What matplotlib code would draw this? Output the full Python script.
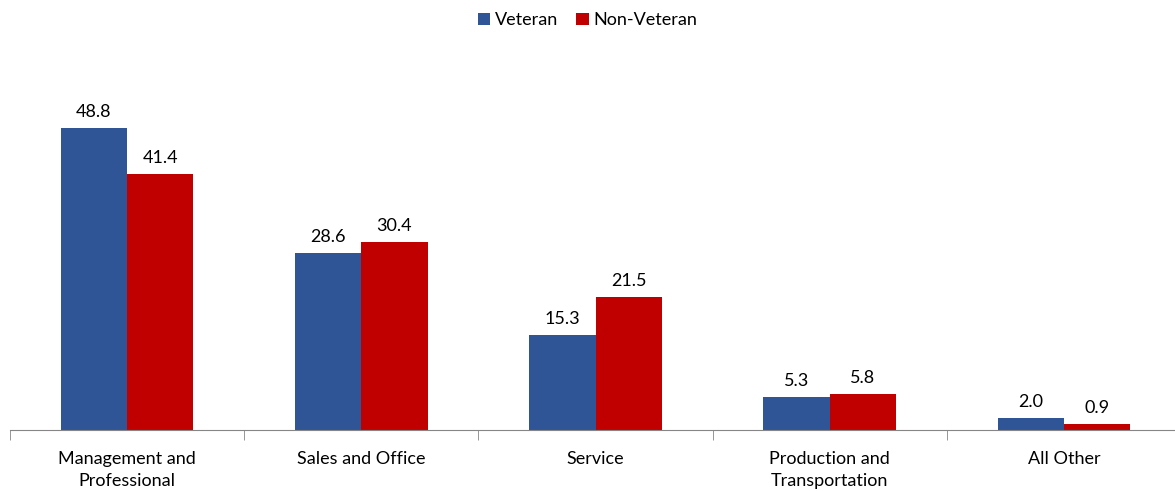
import matplotlib.pyplot as plt
import numpy as np

plt.rcParams['font.family'] = ['Lato', 'DejaVu Sans']

# Occupation share by veteran status (%)
categories = ['Management and\nProfessional', 'Sales and Office', 'Service',
              'Production and\nTransportation', 'All Other']
veteran = [48.8, 28.6, 15.3, 5.3, 2.0]
non_veteran = [41.4, 30.4, 21.5, 5.8, 0.9]

BLUE = '#2F5597'
RED = '#C00000'

fig = plt.figure(figsize=(11.75, 4.91), dpi=100)
ax = fig.add_axes([10 / 1175, 61 / 491, 1171 / 1175, 371 / 491])

x = np.arange(len(categories))
w = 0.283
b1 = ax.bar(x - w / 2, veteran, w, color=BLUE, label='Veteran')
b2 = ax.bar(x + w / 2, non_veteran, w, color=RED, label='Non-Veteran')

#value labels above each bar
for bars, vals in [(b1, veteran), (b2, non_veteran)]:
    for bar, v in zip(bars, vals):
        ax.text(bar.get_x() + bar.get_width() / 2, v + 1.3, f'{v:.1f}',
                ha='center', va='bottom', fontsize=13)

ax.set_xlim(-0.5, len(categories) - 0.5)
ax.set_ylim(0, 60)
for s in ['top', 'right', 'left']:
    ax.spines[s].set_visible(False)
ax.spines['bottom'].set_color('#868686')
ax.set_yticks([])

ax.set_xticks(x)
ax.set_xticklabels(categories, fontsize=13, linespacing=1.5)
ax.tick_params(axis='x', which='major', length=0, pad=15)
ax.set_xticks(np.arange(-0.5, len(categories)), minor=True)
ax.tick_params(axis='x', which='minor', length=7, color='#868686')

fig.legend(handles=[b1, b2], loc='upper center', bbox_to_anchor=(0.5, 1.008),
           ncol=2, frameon=False, fontsize=13, handlelength=0.7,
           handleheight=0.7, handletextpad=0.25, columnspacing=1.0)

fig.savefig('out.png', dpi=100)
